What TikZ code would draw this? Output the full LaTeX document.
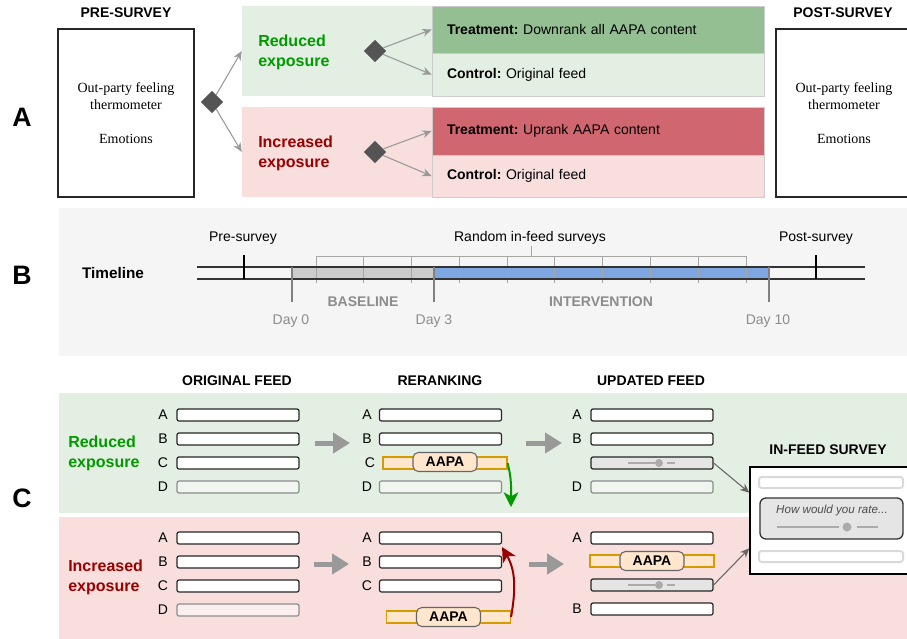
\documentclass[tikz,border=0pt]{standalone}
\usepackage{fontspec}
\setmainfont{Liberation Sans}
\newfontfamily\thermofont{Liberation Serif}
\usetikzlibrary{arrows.meta,shapes.geometric}

\definecolor{armgreen}{RGB}{227,239,226}
\definecolor{armred}{RGB}{249,222,222}
\definecolor{fadegreen}{RGB}{240,246,239}
\definecolor{fadered}{RGB}{250,238,238}
\definecolor{treatgreen}{RGB}{147,191,147}
\definecolor{treatred}{RGB}{208,102,111}
\definecolor{txtgreen}{RGB}{0,153,0}
\definecolor{txtred}{RGB}{153,0,0}
\definecolor{aapafill}{RGB}{255,230,204}
\definecolor{aapaedge}{RGB}{215,155,0}
\definecolor{panelgray}{RGB}{245,245,245}
\definecolor{basegray}{RGB}{204,204,204}
\definecolor{interblue}{RGB}{126,166,224}

\tikzset{
  seclbl/.style={font=\bfseries\fontsize{20}{24}\selectfont, inner sep=0},
  hdr/.style={font=\bfseries\fontsize{10.5}{12}\selectfont, inner sep=0},
  lbltxt/.style={font=\fontsize{10.5}{12}\selectfont, inner sep=0},
  armtxt/.style={font=\bfseries\fontsize{12}{15}\selectfont, align=left, anchor=west, inner sep=0},
  surveybox/.style={draw=black!85, line width=1pt, fill=white, minimum width=102pt, minimum height=126pt, align=center, font=\thermofont\fontsize{10.5}{12.75}\selectfont},
  splitdia/.style={diamond, fill=black!67, minimum width=17pt, minimum height=17pt, inner sep=0},
  armbg/.style={minimum width=391.5pt, minimum height=67.5pt, inner sep=0},
  condbox/.style={draw=black!20, line width=0.6pt, minimum width=249pt, text width=226.5pt, inner xsep=11.25pt, inner ysep=0, align=left, font=\frenchspacing\fontsize{10.5}{12}\selectfont},
  splitarrow/.style={draw=black!40, line width=0.8pt, -{Stealth[length=7pt,width=6pt]}},
  tline/.style={draw=black!80, line width=1pt},
  svtick/.style={draw=black!35, line width=0.75pt},
  dayline/.style={draw=black!50, line width=2.2pt},
  surveymark/.style={draw=black, line width=1.3pt},
  daylbl/.style={lbltxt, text=black!45},
  phaselbl/.style={hdr, text=black!45},
  feedbar/.style={draw=black!85, fill=white, line width=0.9pt, rounded corners=1.5pt, minimum width=91.5pt, minimum height=9pt, inner sep=0},
  fadebar/.style={feedbar, draw=black!45},
  pollbar/.style={feedbar, fill=black!10},
  aapabar/.style={draw=aapaedge, fill=aapafill, line width=0.8pt, minimum width=93pt, minimum height=9pt, inner sep=0},
  aapapill/.style={draw=black!60, fill=aapafill, line width=0.8pt, rounded corners=4pt, minimum width=48pt, minimum height=14.25pt, inner sep=0, font=\bfseries\fontsize{10.5}{12}\selectfont},
  slider/.style={draw=black!33, line width=1.5pt},
  knob/.style={circle, fill=black!33, inner sep=0, minimum size=6pt},
  colarrow/.style={draw=black!40, line width=3.75pt, -{Triangle[length=12.75pt,width=15pt]}},
  tosurvey/.style={draw=black!60, line width=0.8pt, -{Stealth[length=7pt,width=6pt]}},
  moveline/.style={line width=1.5pt, -{Stealth[length=11pt,width=11pt,inset=3pt]}},
  optbar/.style={draw=black!15, line width=1.5pt, fill=white, rounded corners=2pt, minimum width=108pt, minimum height=8.25pt, inner sep=0}
}

\begin{document}
\begin{tikzpicture}[x=0.75pt,y=0.75pt,yscale=-1,xscale=1]
\useasboundingbox (0,0) rectangle (907,639);

\node[seclbl] (secA) at (22,117) {A};
\node[hdr] (prehdr) at (126,13) {PRE-SURVEY};
\node[surveybox] (pre) at (126,113) {Out-party feeling\\thermometer\\[12.75pt]Emotions};
\node[splitdia] (split) at (212,102) {};

\node[armbg, fill=armgreen] (grn) at (503,51) {};
\node[armbg, fill=armred] (red) at (503,152) {};
\node[armtxt, text=txtgreen] (grnlbl) at (258,52) {Reduced\\exposure};
\node[armtxt, text=txtred] (redlbl) at (258,153) {Increased\\exposure};
\node[splitdia] (gdia) at (375,51) {};
\node[splitdia] (rdia) at (375,152) {};
\node[condbox, fill=treatgreen, minimum height=35.25pt] (gtreat) at (598,29.5) {\textbf{Treatment:} Downrank all AAPA content};
\node[condbox, fill=armgreen, minimum height=32.25pt] (gctrl) at (598,74.5) {\textbf{Control:} Original feed};
\node[condbox, fill=treatred, minimum height=36pt] (rtreat) at (598,131) {\textbf{Treatment:} Uprank AAPA content};
\node[condbox, fill=armred, minimum height=31.5pt] (rctrl) at (598,176) {\textbf{Control:} Original feed};

\draw[splitarrow] (split) -- (grn.west);
\draw[splitarrow] (split) -- (red.west);
\draw[splitarrow] (gdia) -- (gtreat.west);
\draw[splitarrow] (gdia) -- (gctrl.west);
\draw[splitarrow] (rdia) -- (rtreat.west);
\draw[splitarrow] (rdia) -- (rctrl.west);

\node[hdr] (posthdr) at (843,13) {POST-SURVEY};
\node[surveybox] (post) at (844,113) {Out-party feeling\\thermometer\\[12.75pt]Emotions};

\fill[panelgray] (59,208) rectangle (907,356);
\node[seclbl] (secB) at (22,275) {B};
\node[font=\bfseries\fontsize{11.5}{14}\selectfont, inner sep=0] (tl) at (113,273) {Timeline};
\fill[basegray] (292,267) rectangle (434,279);
\fill[interblue] (434,267) rectangle (769,279);
\foreach \i in {0,...,9} \draw[svtick] ({316+47.78*\i},256) -- ({316+47.78*\i},283);
\draw[svtick] (316,256) -- (746,256) (531,256) -- (531,246);
\draw[tline] (197,267) -- (865,267) (197,279) -- (865,279);
\draw[dayline] (292,267) -- (292,302) (434,267) -- (434,302) (769,267) -- (769,302);
\draw[surveymark] (244,255) -- (244,279) (816,255) -- (816,279);
\node[lbltxt] (prelbl) at (243,238) {Pre-survey};
\node[lbltxt] (rndlbl) at (530,238) {Random in-feed surveys};
\node[lbltxt] (postlbl) at (816,238) {Post-survey};
\node[phaselbl] (baselbl) at (363,302) {BASELINE};
\node[phaselbl] (intlbl) at (601,302) {INTERVENTION};
\node[daylbl] (day0) at (291,321) {Day 0};
\node[daylbl] (day3) at (434,321) {Day 3};
\node[daylbl] (day10) at (768,321) {Day 10};

\fill[armgreen] (59,393) rectangle (907,513);
\fill[armred] (59,517) rectangle (907,639);
\node[seclbl] (secC) at (22,498) {C};
\node[hdr] (orighdr) at (237,381) {ORIGINAL FEED};
\node[hdr] (rerhdr) at (440,381) {RERANKING};
\node[hdr] (updhdr) at (651,381) {UPDATED FEED};
\node[hdr] (infhdr) at (828,450) {IN-FEED SURVEY};
\node[armtxt, text=txtgreen] (grnlblc) at (68,453.5) {Reduced\\exposure};
\node[armtxt, text=txtred] (redlblc) at (68,577.5) {Increased\\exposure};

\node[lbltxt] at (163,415) {A};
\node[lbltxt] at (163,439) {B};
\node[lbltxt] at (163,463) {C};
\node[lbltxt] at (163,487) {D};
\node[feedbar] (gA1) at (238,415) {};
\node[feedbar] (gB1) at (238,439) {};
\node[feedbar] (gC1) at (238,463) {};
\node[fadebar, fill=fadegreen] (gD1) at (238,487) {};
\node[lbltxt] at (163,538) {A};
\node[lbltxt] at (163,562) {B};
\node[lbltxt] at (163,586) {C};
\node[lbltxt] at (163,610) {D};
\node[feedbar] (rA1) at (238,538) {};
\node[feedbar] (rB1) at (238,562) {};
\node[feedbar] (rC1) at (238,586) {};
\node[fadebar, fill=fadered] (rD1) at (238,610) {};

\node[lbltxt] at (367,415) {A};
\node[lbltxt] at (367,439) {B};
\node[lbltxt] at (370,463) {C};
\node[lbltxt] at (367,487) {D};
\node[feedbar] (gA2) at (440.5,415) {};
\node[feedbar] (gB2) at (440.5,439) {};
\node[aapabar] (gC2) at (445,463) {};
\node[aapapill] (gpill2) at (445,462) {AAPA};
\node[fadebar, fill=fadegreen] (gD2) at (440.5,487) {};
\node[lbltxt] at (367,538) {A};
\node[lbltxt] at (367,562) {B};
\node[lbltxt] at (367,586) {C};
\node[feedbar] (rA2) at (440.5,538) {};
\node[feedbar] (rB2) at (440.5,562) {};
\node[feedbar] (rC2) at (440.5,586) {};
\node[aapabar] (rX2) at (448.5,617) {};
\node[aapapill] (rpill2) at (448.5,617) {AAPA};
\coordinate (gdrop) at (511,507);
\coordinate (rlift) at (502,547);
\draw[moveline, txtgreen] (gC2.east) to[out=75,in=-90] (gdrop);
\draw[moveline, txtred] (rX2.east) to[out=-80,in=60] (rlift);

\node[lbltxt] at (577,415) {A};
\node[lbltxt] at (577,439) {B};
\node[lbltxt] at (577,487) {D};
\node[feedbar] (gA3) at (652,415) {};
\node[feedbar] (gB3) at (652,439) {};
\node[pollbar] (gP3) at (652,463) {};
\node[fadebar, fill=fadegreen] (gD3) at (652,487) {};
\draw[slider] (628,463) -- (655,463) (667,463) -- (675,463);
\node[knob] (gknob) at (659,463) {};
\node[lbltxt] at (577,538) {A};
\node[lbltxt] at (577,609) {B};
\node[feedbar] (rA3) at (652,538) {};
\node[aapabar] (rX3) at (652,561) {};
\node[aapapill] (rpill3) at (652,561) {AAPA};
\node[pollbar] (rP3) at (652,585) {};
\node[feedbar] (rB3) at (652,609) {};
\draw[slider] (628,585) -- (655,585) (667,585) -- (675,585);
\node[knob] (rknob) at (659,585) {};

\coordinate (ga1) at (315,443);
\coordinate (ga2) at (350,443);
\coordinate (ga3) at (526,443);
\coordinate (ga4) at (562,443);
\coordinate (ra1) at (314,564);
\coordinate (ra2) at (349,564);
\coordinate (ra3) at (529,564);
\coordinate (ra4) at (564,564);
\draw[colarrow] (ga1) -- (ga2);
\draw[colarrow] (ga3) -- (ga4);
\draw[colarrow] (ra1) -- (ra2);
\draw[colarrow] (ra3) -- (ra4);

\node[draw=black, line width=1pt, fill=white, minimum width=120pt, minimum height=80.25pt, inner sep=0] (infeed) at (830,520.5) {};
\node[optbar] (opt1) at (831,482.5) {};
\node[draw=black!80, line width=1pt, fill=black!10, rounded corners=4.5pt, minimum width=107.25pt, minimum height=30.75pt, inner sep=0] (question) at (831.5,518.5) {};
\node[font=\itshape\fontsize{8.7}{10}\selectfont, text=black!70, inner sep=0] (qtext) at (832,510) {How would you rate...};
\draw[slider] (777,527) -- (839,527) (857,527) -- (878,527);
\node[knob, minimum size=6.75pt] (qknob) at (847,527) {};
\node[optbar] (opt2) at (831,556.5) {};
\draw[tosurvey] (gP3.east) -- (infeed.161);
\draw[tosurvey] (rP3.east) -- (infeed.199);
\end{tikzpicture}
\end{document}
